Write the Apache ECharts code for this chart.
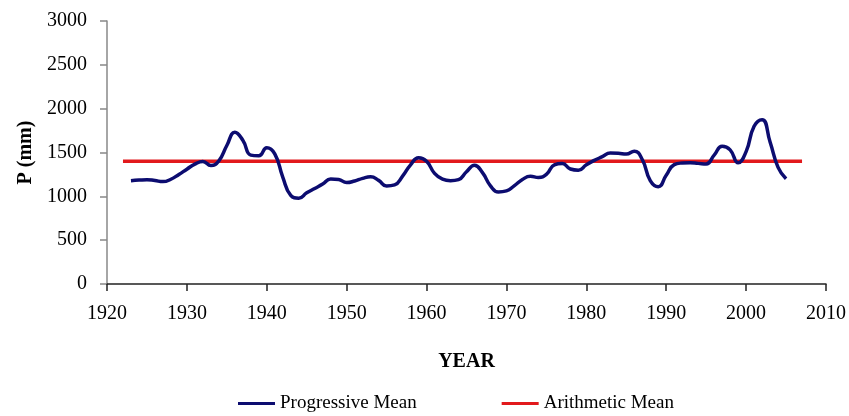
<!DOCTYPE html>
<html>
<head>
<meta charset="utf-8">
<script src="https://cdn.jsdelivr.net/npm/echarts@6/dist/echarts.min.js"></script>
<style>
html,body{margin:0;padding:0;background:#fff;}
#c{width:849px;height:416px;}
</style>
</head>
<body>
<div id="c"></div>
<script>
const years = [1923,1924,1925,1926,1927,1928,1929,1930,1931,1932,1933,1934,1935,1936,1937,1938,1939,1940,1941,1942,1943,1944,1945,1946,1947,1948,1949,1950,1951,1952,1953,1954,1955,1956,1957,1958,1959,1960,1961,1962,1963,1964,1965,1966,1967,1968,1969,1970,1971,1972,1973,1974,1975,1976,1977,1978,1979,1980,1981,1982,1983,1984,1985,1986,1987,1988,1989,1990,1991,1992,1993,1994,1995,1996,1997,1998,1999,2000,2001,2002,2003,2004,2005];
const progressiveMean = [1178,1185,1190,1180,1168,1195,1250,1310,1368,1398,1352,1405,1580,1730,1640,1470,1462,1555,1485,1220,1010,978,1040,1090,1140,1198,1192,1157,1175,1205,1222,1182,1118,1130,1230,1360,1440,1400,1262,1195,1178,1190,1280,1355,1270,1120,1050,1062,1122,1192,1228,1215,1250,1360,1375,1312,1298,1360,1410,1452,1495,1492,1482,1515,1420,1180,1110,1240,1362,1380,1383,1376,1370,1470,1572,1530,1382,1510,1800,1875,1620,1330,1200];
const meanYears = [1922, 2007];
const arithmeticMean = 1400;
const xTicks = [1920,1930,1940,1950,1960,1970,1980,1990,2000,2010];
const yTicks = [0,500,1000,1500,2000,2500,3000];

const font = 'Liberation Serif';
const chart = echarts.init(document.getElementById('c'));
chart.setOption({
  animation: false,
  backgroundColor: '#fff',
  grid: {left: 107, right: 23, top: 21, bottom: 132},
  legend: {
    left: 238, top: 394, padding: 0,
    icon: 'rect', itemWidth: 37, itemHeight: 3, itemGap: 85,
    textStyle: {fontFamily: font, fontSize: 19, color: '#000'},
    data: ['Progressive Mean', 'Arithmetic Mean']
  },
  xAxis: {
    type: 'value',
    min: xTicks[0], max: xTicks[xTicks.length-1], interval: 10,
    name: 'YEAR', nameLocation: 'middle', nameGap: 68,
    nameTextStyle: {fontFamily: font, fontSize: 20, fontWeight: 'bold', color: '#000'},
    axisLine: {show: true, onZero: false, lineStyle: {color: '#222', width: 1.5}},
    axisTick: {show: true, inside: false, length: 7, lineStyle: {color: '#222', width: 1.5}},
    axisLabel: {fontFamily: font, fontSize: 20, color: '#000', margin: 20, formatter: v => String(v)},
    splitLine: {show: false}
  },
  yAxis: {
    type: 'value',
    min: yTicks[0], max: yTicks[yTicks.length-1], interval: 500,
    name: 'P (mm)', nameLocation: 'middle', nameGap: 70, nameRotate: 90,
    nameTextStyle: {fontFamily: font, fontSize: 20, fontWeight: 'bold', color: '#000'},
    axisLine: {show: true, lineStyle: {color: '#888', width: 1.5}},
    axisTick: {show: true, inside: false, length: 7, lineStyle: {color: '#888', width: 1.5}},
    axisLabel: {fontFamily: font, fontSize: 20, color: '#000', margin: 20, formatter: v => String(v)},
    splitLine: {show: false}
  },
  series: [
    {
      name: 'Progressive Mean', type: 'line', smooth: 0.5,
      showSymbol: false, symbol: 'none',
      lineStyle: {color: '#0c0c70', width: 3.5},
      itemStyle: {color: '#0c0c70'},
      data: years.map((y, i) => [y, progressiveMean[i]]),
      z: 3
    },
    {
      name: 'Arithmetic Mean', type: 'line',
      showSymbol: false, symbol: 'none',
      lineStyle: {color: '#e2191c', width: 3.5},
      itemStyle: {color: '#e2191c'},
      data: meanYears.map(y => [y, arithmeticMean]),
      z: 2
    }
  ]
});
</script>
</body>
</html>
